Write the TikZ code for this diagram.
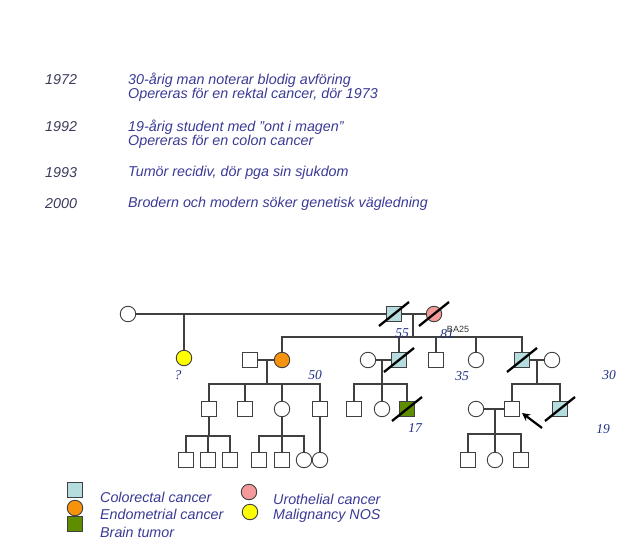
\documentclass[tikz,border=0pt]{standalone}
\usepackage{fontspec}
\setmainfont{Liberation Sans}
\newfontfamily\agefont{Liberation Serif}
\usetikzlibrary{arrows.meta}

\definecolor{crc}{HTML}{B5DCDF}
\definecolor{uro}{HTML}{F59A9A}
\definecolor{endo}{HTML}{F7930A}
\definecolor{mal}{HTML}{FFFF00}
\definecolor{brain}{HTML}{5E8E00}
\definecolor{yearcol}{HTML}{3A3A5C}
\definecolor{desccol}{HTML}{3A3A96}
\definecolor{agecol}{HTML}{1F2F85}

\begin{document}
\begin{tikzpicture}[x=1pt, y=-1pt,
  sq/.style={draw=black!75, line width=0.9pt, minimum size=15pt, inner sep=0pt, fill=white},
  ci/.style={draw=black!75, line width=0.9pt, circle, minimum size=15.5pt, inner sep=0pt, fill=white},
  ln/.style={draw=black!75, line width=1.2pt},
  dead/.style={line width=2.3pt, black},
  year/.style={anchor=west, inner sep=0pt, text=yearcol, font=\fontsize{14.3}{16}\selectfont\itshape},
  desc/.style={anchor=west, inner sep=0pt, text=desccol, font=\fontsize{14.3}{16}\selectfont\itshape},
  age/.style={text=agecol, font=\agefont\fontsize{13.5}{15}\selectfont\itshape}]
  \useasboundingbox (0,0) rectangle (631,556);

  % history
  \node (y72) at (45,80) [year]{1972};
  \node (t72a) at (128,80) [desc]{30-årig man noterar blodig avföring};
  \node (t72b) at (128,95) [desc]{Opereras för en rektal cancer, dör 1973};
  \node (y92) at (45,127) [year]{1992};
  \node (t92a) at (128,127) [desc]{19-årig student med ”ont i magen”};
  \node (t92b) at (128,142) [desc]{Opereras för en colon cancer};
  \node (y93) at (45,173) [year]{1993};
  \node (t93) at (128,173) [desc]{Tumör recidiv, dör pga sin sjukdom};
  \node (y00) at (45,204) [year]{2000};
  \node (t00) at (128,204) [desc]{Brodern och modern söker genetisk vägledning};

  % generation I
  \node (gm1) at (128,314) [ci]{};
  \node (gf) at (394,314) [sq, fill=crc]{};
  \node (gm2) at (434,314) [ci, fill=uro]{};
  \draw[ln] (gm1) -- (gf);
  \draw[ln] (gf) -- (gm2);
  \coordinate (d0) at (184,314);
  \coordinate (d1) at (413,314);
  \coordinate (s1) at (413,337);

  % generation II
  \node (aunt) at (184,358) [ci, fill=mal]{};
  \node (h2) at (250,360) [sq]{};
  \node (dau) at (282,360) [ci, fill=endo]{};
  \node (w3) at (368,360) [ci]{};
  \node (son3) at (399,360) [sq, fill=crc]{};
  \node (son4) at (436,360) [sq]{};
  \node (dau5) at (476,360) [ci]{};
  \node (son6) at (522,360) [sq, fill=crc]{};
  \node (w6) at (552,360) [ci]{};
  \draw[ln] (d0) -- (aunt);
  \draw[ln] (d1) -- (s1);
  \draw[ln] (dau.north) |- (s1) -| (son6.north);
  \foreach \n in {son3, son4, dau5}
    \draw[ln] (\n.north) -- (\n.north |- s1);
  \draw[ln] (h2) -- (dau);
  \draw[ln] (w3) -- (son3);
  \draw[ln] (son6) -- (w6);

  % generation III
  \node (c1) at (209,409) [sq]{};
  \node (c2) at (245,409) [sq]{};
  \node (c3) at (282,409) [ci]{};
  \node (c4) at (320,409) [sq]{};
  \node (c5) at (354,409) [sq]{};
  \node (c6) at (382,409) [ci]{};
  \node (c7) at (407,409) [sq, fill=brain]{};
  \node (wp) at (476,409) [ci]{};
  \node (pb) at (512,409) [sq]{};
  \node (c9) at (560,409) [sq, fill=crc]{};
  \coordinate (d2) at (267,360);
  \coordinate (s2) at (267,384);
  \coordinate (d3) at (382,360);
  \coordinate (s3) at (382,384);
  \coordinate (d4) at (537,360);
  \coordinate (s4) at (537,384);
  \draw[ln] (d2) -- (s2);
  \draw[ln] (c1.north) |- (s2) -| (c4.north);
  \foreach \n in {c2, c3}
    \draw[ln] (\n.north) -- (\n.north |- s2);
  \draw[ln] (d3) -- (s3);
  \draw[ln] (c5.north) |- (s3) -| (c7.north);
  \draw[ln] (c6.north) -- (s3);
  \draw[ln] (d4) -- (s4);
  \draw[ln] (pb.north) |- (s4) -| (c9.north);
  \draw[ln] (wp) -- (pb);

  % generation IV
  \node (e1) at (186,460) [sq]{};
  \node (e2) at (208,460) [sq]{};
  \node (e3) at (230,460) [sq]{};
  \node (e4) at (259,460) [sq]{};
  \node (e5) at (282,460) [sq]{};
  \node (e6) at (304,460) [ci]{};
  \node (e7) at (320,460) [ci]{};
  \node (e8) at (468,460) [sq]{};
  \node (e9) at (495,460) [ci]{};
  \node (e10) at (521,460) [sq]{};
  \coordinate (s5) at (209,436);
  \coordinate (s6) at (282,436);
  \coordinate (d7) at (495,409);
  \coordinate (s7) at (495,434);
  \draw[ln] (c1) -- (s5);
  \draw[ln] (e1.north) |- (s5) -| (e3.north);
  \draw[ln] (e2.north) -- (e2.north |- s5);
  \draw[ln] (c3) -- (s6);
  \draw[ln] (e4.north) |- (s6) -| (e6.north);
  \draw[ln] (e5.north) -- (s6);
  \draw[ln] (c4) -- (e7);
  \draw[ln] (d7) -- (s7);
  \draw[ln] (e8.north) |- (s7) -| (e10.north);
  \draw[ln] (e9.north) -- (s7);

  % deceased
  \foreach \n in {gf, gm2, son3, son6, c7, c9}
    \draw[dead] ([shift={(-15,12)}]\n.center) -- ([shift={(15,-12)}]\n.center);

  % proband
  \coordinate (arr) at (542,428);
  \coordinate (tip) at (522,413);
  \draw[line width=2.2pt, -{Stealth[length=8pt, width=8pt]}] (arr) -- (tip);

  % ages
  \node (a1) at (178,375) [age]{?};
  \node (a2) at (315,375) [age]{50};
  \node (a3) at (402,333) [age]{55};
  \node (a4) at (447,334) [age]{81};
  \node (ba) at (458,329) [font=\fontsize{9}{10}\selectfont, text=black!80]{BA25};
  \node (a5) at (462,376) [age]{35};
  \node (a6) at (609,375) [age]{30};
  \node (a7) at (415,428) [age]{17};
  \node (a8) at (603,429) [age]{19};

  % legend
  \node (lcrc) at (75,490) [sq, fill=crc]{};
  \node (lend) at (75,508) [ci, fill=endo]{};
  \node (lbrn) at (75,524) [sq, fill=brain]{};
  \node (luro) at (249,492) [ci, fill=uro]{};
  \node (lmal) at (250,512) [ci, fill=mal]{};
  \node (tcrc) at (100,497) [desc]{Colorectal cancer};
  \node (tend) at (100,514) [desc]{Endometrial cancer};
  \node (tbrn) at (100,532) [desc]{Brain tumor};
  \node (turo) at (273,499) [desc]{Urothelial cancer};
  \node (tmal) at (273,516) [desc]{Malignancy NOS};
\end{tikzpicture}
\end{document}
